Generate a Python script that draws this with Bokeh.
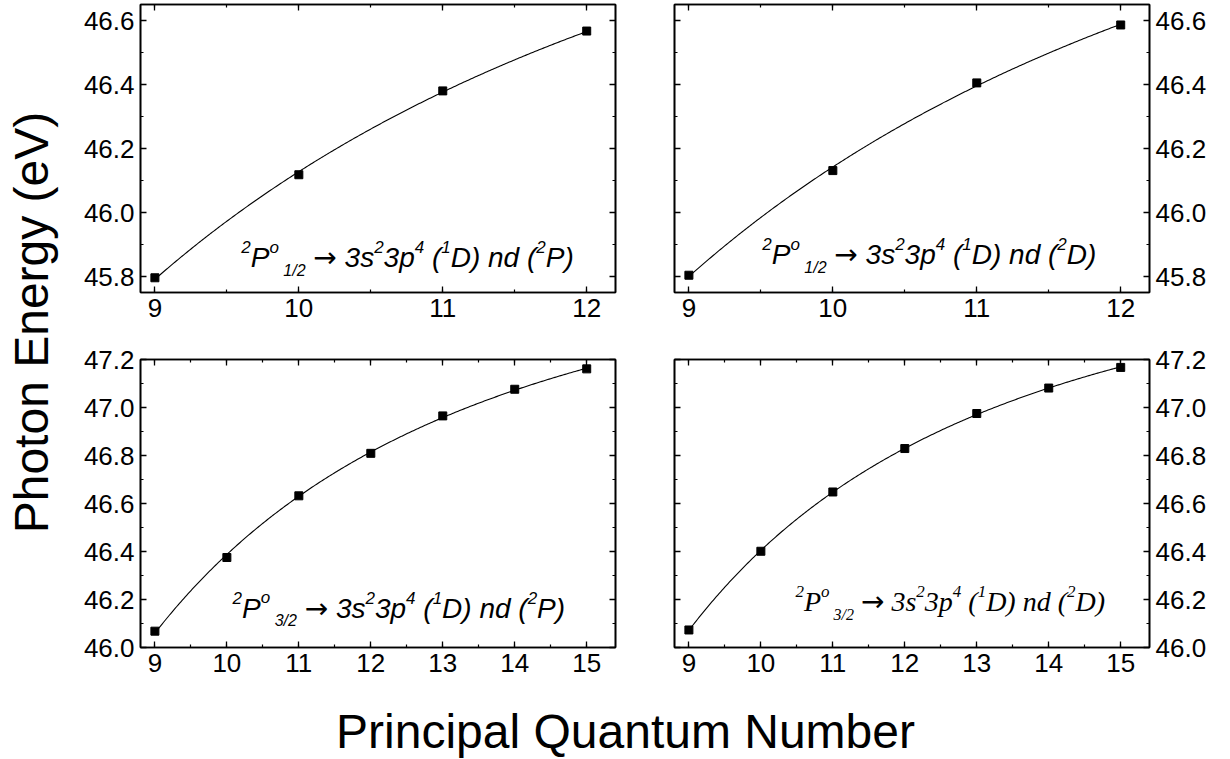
import numpy as np
from bokeh.plotting import figure
from bokeh.models import (Range1d, LinearAxis, SingleIntervalTicker, PrintfTickFormatter, Label,
                          CustomLabelingPolicy)
from bokeh.layouts import row, column
from bokeh.embed import file_html
from bokeh.resources import INLINE

SANS = "Liberation Sans"
SERIF = "Liberation Serif"
ARROW_FONT = "DejaVu Sans"
BASELINE_FIX = 0.29   # Bokeh's label box puts the glyph baseline this many em below the anchor

# ---------------- data ----------------
n_top = [9, 10, 11, 12]
energy_tl = [45.796, 46.118, 46.380, 46.567]   # 2P1/2 -> (1D) nd (2P)
energy_tr = [45.804, 46.131, 46.405, 46.586]   # 2P1/2 -> (1D) nd (2D)
n_bottom = [9, 10, 11, 12, 13, 14, 15]
energy_bl = [46.068, 46.375, 46.632, 46.809, 46.965, 47.076, 47.161]  # 2P3/2 -> (2P)
energy_br = [46.073, 46.401, 46.648, 46.829, 46.975, 47.081, 47.167]  # 2P3/2 -> (2D)

x_range_top = (8.9, 12.2)
y_range_top = (45.75, 46.65)
x_range_bottom = (8.8, 15.4)
y_range_bottom = (46.0, 47.2)
x_tick_step = 1
y_tick_step = 0.2

y_axis_label = "Photon Energy (eV)"
x_axis_label = "Principal Quantum Number"


# annotation pieces: (text, role)
def transition(j, term):
    return [("2", "sup"), ("P", "main"), ("o", "sup"), (" ", "sub"), (j, "sub"),
            (" ", "main"), ("\u2192", "arrow"), (" ", "main"),
            ("3s", "main"), ("2", "sup"), ("3p", "main"), ("4", "sup"), (" ", "main"),
            ("(", "main"), ("1", "sup"), ("D)", "main"), (" ", "main"), ("nd", "main"),
            (" ", "main"), ("(", "main"), ("2", "sup"), (term + ")", "main")]


# advance widths (em) for the fonts used
W_SANS = {**{d: 0.556 for d in "0123456789"}, " ": 0.278, "/": 0.278, "(": 0.333, ")": 0.333,
          "P": 0.667, "D": 0.722, "o": 0.556, "s": 0.5, "p": 0.556, "n": 0.556, "d": 0.556,
          "\u2192": 0.838}
W_SERIF = {**{d: 0.5 for d in "0123456789"}, " ": 0.25, "/": 0.278, "(": 0.333, ")": 0.333,
           "P": 0.611, "D": 0.722, "o": 0.5, "s": 0.389, "p": 0.5, "n": 0.5, "d": 0.5,
           "\u2192": 0.838}
ROLE = {"main": (28, 0), "sup": (17, 14), "sub": (16, -9), "arrow": (28, 0)}


def add_rich(p, x, y, segs, font, widths):
    off = 0.0
    for txt, role in segs:
        size, dy = ROLE[role]
        if txt.strip():
            arrow = role == "arrow"
            p.add_layout(Label(x=x, y=y, x_offset=off, y_offset=dy + BASELINE_FIX * size, text=txt,
                               text_font=ARROW_FONT if arrow else font,
                               text_font_size=f"{size}px",
                               text_font_style="normal" if arrow else "italic",
                               text_color="black", text_align="left",
                               text_baseline="alphabetic"))
        off += sum(widths.get(c, 0.55) for c in txt) * size


def rydberg_fit(n, e):
    n = np.asarray(n, float)
    e = np.asarray(e, float)
    best = None
    for d in np.linspace(0.0, 6.0, 3001):
        X = np.column_stack([np.ones_like(n), -1.0 / (n - d) ** 2])
        coef = np.linalg.lstsq(X, e, rcond=None)[0]
        r = float(np.sum((X @ coef - e) ** 2))
        if best is None or r < best[0]:
            best = (r, d, coef)
    _, d, (a, b) = best
    nn = np.linspace(n[0], n[-1], 300)
    return nn, a - b / (nn - d) ** 2


NO_LABELS = """
const all = [...indices];
for (const i of all) indices.unset(i);
return indices;
"""


def style_axis(ax, labels):
    ax.axis_line_color = "black"
    ax.axis_line_width = 1.6
    ax.major_tick_in = 6
    ax.major_tick_out = 0
    ax.minor_tick_in = 3
    ax.minor_tick_out = 0
    ax.major_tick_line_color = "black"
    ax.major_tick_line_width = 1.3
    ax.minor_tick_line_color = "black"
    ax.minor_tick_line_width = 1.2
    if labels:
        ax.major_label_text_font = SANS
        ax.major_label_text_font_size = "26px"
        ax.major_label_text_color = "black"
        ax.major_label_standoff = 6
    else:
        ax.major_label_policy = CustomLabelingPolicy(code=NO_LABELS)
        ax.major_label_text_font_size = "1px"
        ax.major_label_standoff = 0


def panel(n, e, xr, yr, side, width, height, borders, note, note_xy, font, widths):
    bl, br, bt, bb = borders
    p = figure(width=width, height=height, x_range=Range1d(*xr), y_range=Range1d(*yr),
               output_backend="svg", toolbar_location=None, y_axis_location=side,
               min_border_left=bl, min_border_right=br, min_border_top=bt, min_border_bottom=bb,
               background_fill_color="white", border_fill_color="white")
    p.grid.visible = False
    p.outline_line_color = "black"
    p.outline_line_width = 1.6

    xt = lambda: SingleIntervalTicker(interval=x_tick_step, num_minor_ticks=2)
    yt = lambda: SingleIntervalTicker(interval=y_tick_step, num_minor_ticks=2)
    p.xaxis.ticker = xt()
    p.xaxis.formatter = PrintfTickFormatter(format="%d")
    p.yaxis.ticker = yt()
    p.yaxis.formatter = PrintfTickFormatter(format="%.1f")
    style_axis(p.xaxis[0], True)
    style_axis(p.yaxis[0], True)

    top = LinearAxis(ticker=xt())
    style_axis(top, False)
    p.add_layout(top, "above")
    other = LinearAxis(ticker=yt())
    style_axis(other, False)
    p.add_layout(other, "left" if side == "right" else "right")

    cx, cy = rydberg_fit(n, e)
    p.line(cx, cy, line_color="black", line_width=1.1)
    p.scatter(n, e, marker="square", size=8, fill_color="black", line_color="black")
    add_rich(p, note_xy[0], note_xy[1], note, font, widths)
    return p


tl = panel(n_top, energy_tl, x_range_top, y_range_top, "left", 585, 340, (80, 30, 4, 48),
           transition("1/2", "P"), (9.60, 45.833), SANS, W_SANS)
tr = panel(n_top, energy_tr, x_range_top, y_range_top, "right", 577, 340, (29, 73, 4, 48),
           transition("1/2", "D"), (9.51, 45.842), SANS, W_SANS)
bl = panel(n_bottom, energy_bl, x_range_bottom, y_range_bottom, "left", 585, 360, (80, 30, 19, 53),
           transition("3/2", "P"), (10.08, 46.129), SANS, W_SANS)
br = panel(n_bottom, energy_br, x_range_bottom, y_range_bottom, "right", 577, 360, (29, 73, 19, 53),
           transition("3/2", "D"), (10.48, 46.156), SERIF, W_SERIF)


def text_fig(w, h):
    f = figure(width=w, height=h, x_range=Range1d(0, w), y_range=Range1d(0, h),
               x_axis_type=None, y_axis_type=None, output_backend="svg", toolbar_location=None,
               min_border_left=0, min_border_right=0, min_border_top=0, min_border_bottom=0,
               outline_line_color=None, background_fill_color="white", border_fill_color="white")
    f.grid.visible = False
    return f


LABEL_SIZE = 48
ylab = text_fig(60, 700)
ylab.add_layout(Label(x=45 - BASELINE_FIX * LABEL_SIZE, y=378, text=y_axis_label, angle=np.pi / 2,
                      text_align="center", text_baseline="alphabetic", text_font=SANS,
                      text_font_size=f"{LABEL_SIZE}px", text_color="black"))
xlab = text_fig(1222, 59)
xlab.add_layout(Label(x=625, y=14 + BASELINE_FIX * LABEL_SIZE, text=x_axis_label, text_align="center",
                      text_baseline="alphabetic", text_font=SANS,
                      text_font_size=f"{LABEL_SIZE}px", text_color="black"))

layout = column(row(ylab, column(row(tl, tr), row(bl, br))), xlab)

open("out.html", "w").write(file_html(layout, INLINE))
